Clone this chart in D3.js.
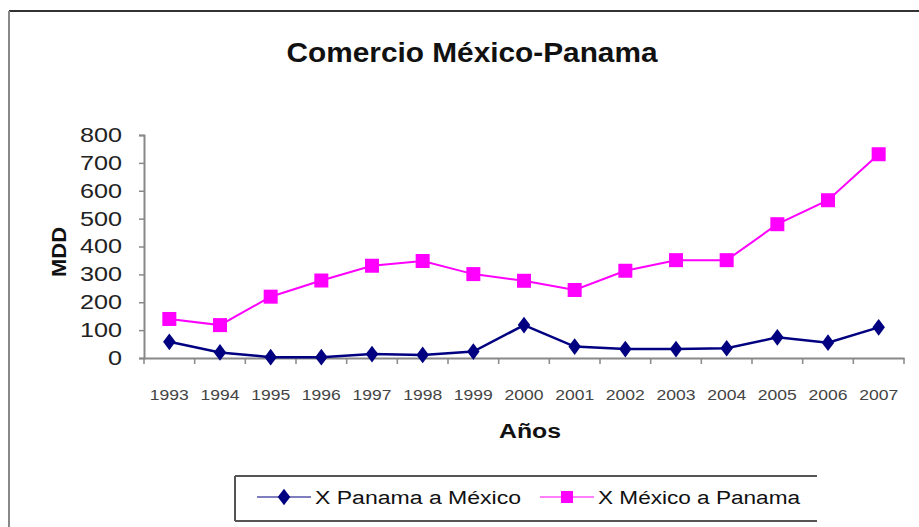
<!DOCTYPE html>
<html>
<head>
<meta charset="utf-8">
<script src="https://cdn.jsdelivr.net/npm/d3@7"></script>
<style>
body { margin: 0; background: #fff; }
svg { display: block; font-family: "Liberation Sans", Arial, sans-serif; }
</style>
</head>
<body>
<svg id="chart" width="919" height="527"></svg>
<script>
// DATA
var years = ["1993","1994","1995","1996","1997","1998","1999","2000","2001","2002","2003","2004","2005","2006","2007"];
var panamaMexico = [58, 20, 3, 3, 14, 11, 23, 118, 41, 32, 32, 35, 74, 55, 110];
var mexicoPanama = [140, 118, 220, 278, 331, 348, 301, 277, 244, 313, 351, 351, 480, 566, 731];
var yTicks = [0, 100, 200, 300, 400, 500, 600, 700, 800];
var seriesNames = ["X Panama a México", "X México a Panama"];

var svg = d3.select("#chart");

// frame
svg.append("line").attr("x1", 9).attr("x2", 919).attr("y1", 11).attr("y2", 11)
.attr("stroke", "#333").attr("stroke-width", 2);
svg.append("line").attr("x1", 9).attr("x2", 9).attr("y1", 11).attr("y2", 527)
.attr("stroke", "#888").attr("stroke-width", 2);

// SCALES
var x = d3.scaleBand().domain(years).range([144, 904]);
var y = d3.scaleLinear().domain([0, 800]).range([358, 135]);
var cx = (d) => x(d) + x.bandwidth() / 2;

// title
svg.append("text")
.attr("x", 472).attr("y", 62)
.attr("text-anchor", "middle")
.attr("font-size", 28).attr("font-weight", "bold").attr("fill", "#111")
.attr("textLength", 371).attr("lengthAdjust", "spacingAndGlyphs")
.text("Comercio México-Panama");

// y axis
var yAxis = svg.append("g")
.attr("transform", "translate(144,0)")
.call(d3.axisLeft(y).tickValues(yTicks).tickSize(5).tickPadding(17));
yAxis.select(".domain").attr("stroke", "#888").attr("stroke-width", 2);
yAxis.selectAll(".tick line").attr("stroke", "#888").attr("stroke-width", 1.5);
yAxis.selectAll(".tick text")
.attr("font-size", 20).attr("fill", "#222")
.attr("font-family", "'Liberation Sans', Arial, sans-serif")
.attr("textLength", (d) => String(d).length * 14)
.attr("lengthAdjust", "spacingAndGlyphs");

// x axis
var xAxis = svg.append("g")
.attr("transform", "translate(0,358)")
.call(d3.axisBottom(x).tickSize(0).tickPadding(31));
xAxis.select(".domain").attr("stroke", "#888").attr("stroke-width", 2);
xAxis.selectAll(".tick text")
.attr("font-size", 15).attr("fill", "#444")
.attr("font-family", "'Liberation Sans', Arial, sans-serif")
.attr("textLength", 39).attr("lengthAdjust", "spacingAndGlyphs");
xAxis.selectAll(".sep")
.data(d3.range(years.length + 1))
.enter().append("line")
.attr("class", "sep")
.attr("x1", (i) => 144 + i * x.step()).attr("x2", (i) => 144 + i * x.step())
.attr("y1", 0).attr("y2", 6)
.attr("stroke", "#888").attr("stroke-width", 1.5);

// axis titles
svg.append("text")
.attr("transform", "translate(66,252) rotate(-90)")
.attr("text-anchor", "middle")
.attr("font-size", 20).attr("font-weight", "bold").attr("fill", "#111")
.attr("textLength", 50).attr("lengthAdjust", "spacingAndGlyphs")
.text("MDD");
svg.append("text")
.attr("x", 530).attr("y", 438)
.attr("text-anchor", "middle")
.attr("font-size", 20).attr("font-weight", "bold").attr("fill", "#111")
.attr("textLength", 62).attr("lengthAdjust", "spacingAndGlyphs")
.text("Años");

// LINES
var line = d3.line().x((d, i) => cx(years[i])).y((d) => y(d));

svg.append("path").datum(mexicoPanama)
.attr("d", line).attr("fill", "none")
.attr("stroke", "#ff00ff").attr("stroke-width", 2);
svg.selectAll(".sq").data(mexicoPanama).enter().append("rect")
.attr("class", "sq")
.attr("x", (d, i) => cx(years[i]) - 7).attr("y", (d) => y(d) - 7)
.attr("width", 14).attr("height", 14)
.attr("fill", "#ff00ff");

svg.append("path").datum(panamaMexico)
.attr("d", line).attr("fill", "none")
.attr("stroke", "#000080").attr("stroke-width", 2.5);
var diamond = d3.symbol().type(d3.symbolDiamond).size(80);
svg.selectAll(".dm").data(panamaMexico).enter().append("path")
.attr("class", "dm")
.attr("d", diamond)
.attr("transform", (d, i) => "translate(" + cx(years[i]) + "," + y(d) + ") scale(1.3,1)")
.attr("fill", "#000080");

// LEGEND
var lg = svg.append("g");
lg.append("path").attr("d", "M235,476 H817 M235,476 V521 M235,521 H817")
.attr("fill", "none").attr("stroke", "#555").attr("stroke-width", 2);

var lgItems = [
  {x: 257, color: "#000080", shape: "diamond", textLen: 206},
  {x: 540, color: "#ff00ff", shape: "square", textLen: 202}
];
lgItems.forEach(function(it, i) {
  lg.append("line").attr("x1", it.x).attr("x2", it.x + 54).attr("y1", 497).attr("y2", 497)
  .attr("stroke", it.color).attr("stroke-width", 2).attr("stroke-opacity", 0.5);
  if (it.shape == "diamond") {
    lg.append("path").attr("d", diamond)
    .attr("transform", "translate(" + (it.x + 27) + ",497) scale(1.3,1)")
    .attr("fill", it.color);
  } else {
    lg.append("rect").attr("x", it.x + 21).attr("y", 491).attr("width", 12).attr("height", 12)
    .attr("fill", it.color);
  }
  lg.append("text")
  .attr("x", it.x + 58).attr("y", 504)
  .attr("font-size", 18).attr("fill", "#111")
  .attr("textLength", it.textLen).attr("lengthAdjust", "spacingAndGlyphs")
  .text(seriesNames[i]);
});
</script>
</body>
</html>
